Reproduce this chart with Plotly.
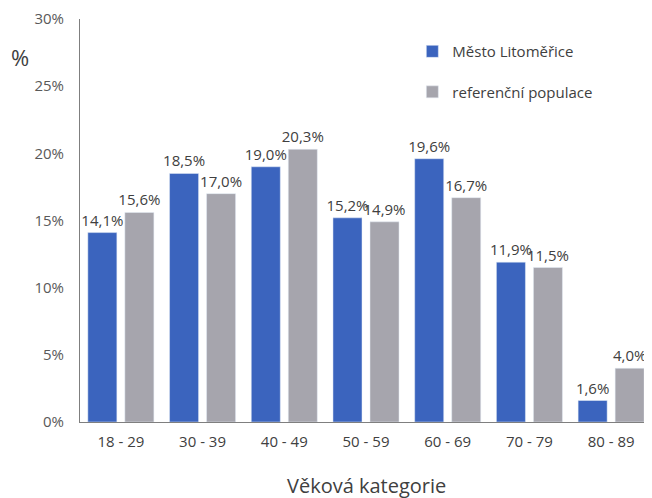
import plotly.graph_objects as go

kategorie = ["18 - 29", "30 - 39", "40 - 49", "50 - 59", "60 - 69", "70 - 79", "80 - 89"]
mesto = [14.1, 18.5, 19.0, 15.2, 19.6, 11.9, 1.6]
reference = [15.6, 17.0, 20.3, 14.9, 16.7, 11.5, 4.0]

font = "Open Sans"
label_font = dict(size=15, color="#404040")

fig = go.Figure()
fig.add_trace(go.Bar(
    x=kategorie, y=mesto, name="Město Litoměřice",
    marker_color="#3B64BE", legendgroup="a",
    texttemplate="%{y:.1f}%", textposition="outside", cliponaxis=False,
    constraintext="none", textfont=label_font,
))
fig.add_trace(go.Bar(
    x=kategorie, y=reference, name="referenční populace",
    marker_color="#A6A5AD", legendgroup="b",
    texttemplate="%{y:.1f}%", textposition="outside", cliponaxis=False,
    constraintext="none", textfont=label_font,
))

# stranka ma 8px okraj, proto 644x490
fig.update_layout(
    width=644, height=490,
    margin=dict(l=72, r=0, t=11, b=76, autoexpand=False),
    paper_bgcolor="white", plot_bgcolor="white",
    font=dict(family=font, color="#404040", size=14),
    separators=",.",
    barmode="group", bargap=0.094, bargroupgap=0.216,
    legend=dict(x=0.581, y=0.96, xanchor="left", yanchor="top",
                font=dict(size=15, color="#404040"),
                traceorder="grouped", tracegroupgap=18, itemwidth=30),
    showlegend=True,
)
fig.update_yaxes(range=[0, 30], dtick=5, ticksuffix="%", showgrid=False, automargin=False,
                 showline=True, linecolor="#7F7F7F", linewidth=1, ticklabelstandoff=12,
                 ticklabeloverflow="allow",
                 tickfont=dict(size=15, color="#595959"), ticks="", zeroline=False)
fig.update_xaxes(showline=True, linecolor="#7F7F7F", linewidth=1, ticks="", automargin=False,
                 ticklabelstandoff=6, tickfont=dict(size=15, color="#404040"))

# osa x popisek a "%"
fig.add_annotation(x=0.5, y=-0.157, xref="paper", yref="paper", text="Věková kategorie",
                   showarrow=False, yanchor="middle", font=dict(size=20, color="#404040"))
fig.add_annotation(x=-0.125, y=0.905, xref="paper", yref="paper", text="%",
                   showarrow=False, yanchor="middle", font=dict(size=22, color="#404040"))

fig.write_html("out.html")
